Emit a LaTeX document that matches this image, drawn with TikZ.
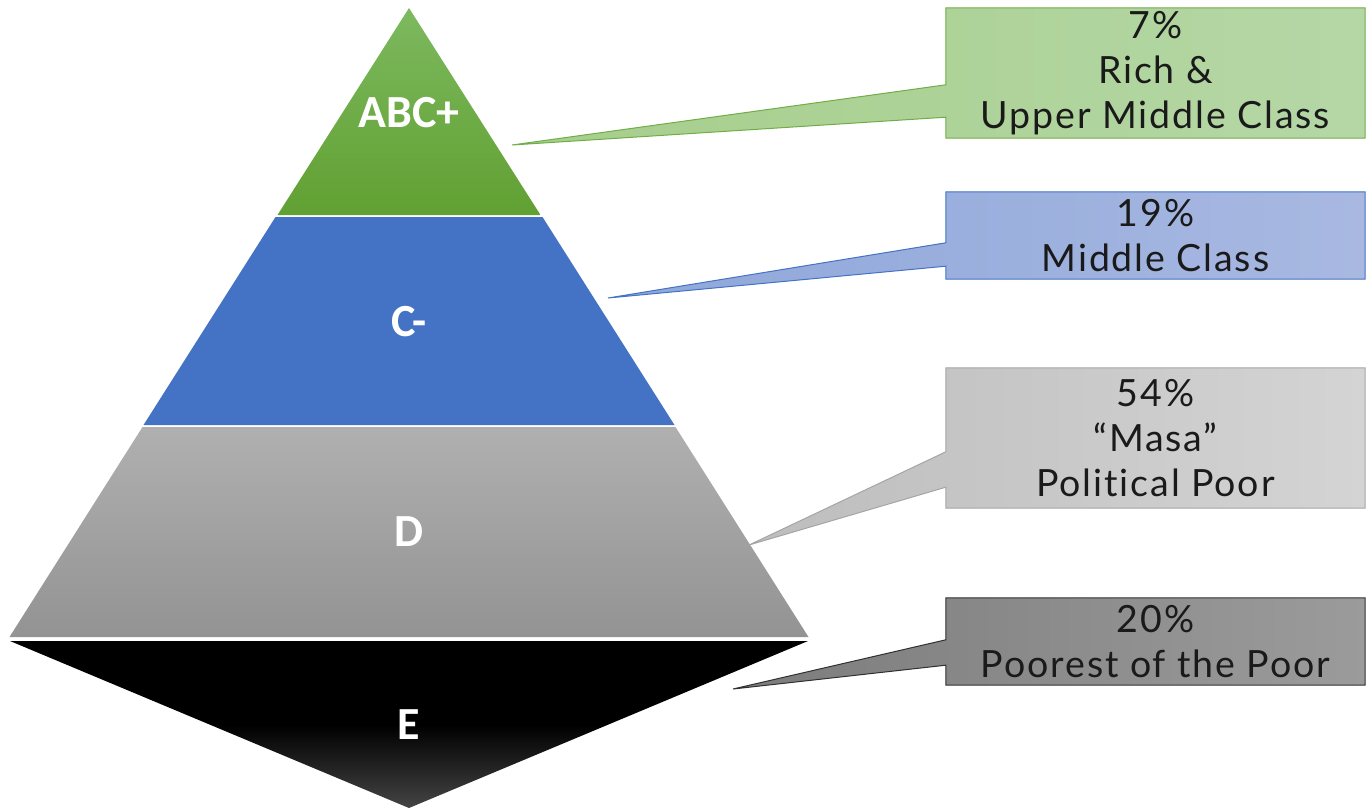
\documentclass[tikz,border=0pt]{standalone}
\usepackage{fontspec}
\setmainfont{Carlito}
\newfontfamily\boxfont[LetterSpace=5,Ligatures={NoCommon}]{Lato}
\usetikzlibrary{calc}
\pgfdeclarelayer{bg}
\pgfsetlayers{bg,main}
\definecolor{gtop}{HTML}{7DB95F}
\definecolor{gbot}{HTML}{61A032}
\definecolor{bband}{HTML}{4472C4}
\definecolor{dtop}{HTML}{B0B0B0}
\definecolor{dbot}{HTML}{939393}
\definecolor{ebot}{HTML}{444444}
\definecolor{gbl}{HTML}{A6CE8B}
\definecolor{gbr}{HTML}{B5D7A6}
\definecolor{gbd}{HTML}{70AD47}
\definecolor{bbl}{HTML}{8EA7DA}
\definecolor{bbr}{HTML}{A8B8E1}
\definecolor{bbd}{HTML}{4472C4}
\definecolor{ybl}{HTML}{BDBDBD}
\definecolor{ybr}{HTML}{D4D4D4}
\definecolor{ybd}{HTML}{A5A5A5}
\definecolor{kbl}{HTML}{7C7C7C}
\definecolor{kbr}{HTML}{9B9B9B}
\definecolor{kbd}{HTML}{303030}
\definecolor{txt}{HTML}{1A1A1A}
\tikzset{
  band/.style={text=white, font=\bfseries\fontsize{46}{46}\selectfont, inner sep=0pt},
  cbox/.style={minimum width=419pt, inner sep=0pt, align=center, text=txt,
    font=\boxfont\fontsize{37.5}{45}\selectfont},
  callout/.style={line width=1pt, line join=miter}
}
\begin{document}
\begin{tikzpicture}[x=1pt,y=-1pt]
\useasboundingbox (0,0) rectangle (1370,811);
% pyramid bands
\path[top color=gtop, bottom color=gbot] (409,8) -- (540.5,215) -- (277.5,215) -- cycle;
\path[fill=bband] (275.5,217) -- (542.5,217) -- (674.5,425) -- (143.5,425) -- cycle;
\path[top color=dtop, bottom color=dbot] (142.5,427) -- (675.5,427) -- (808.5,637) -- (9.5,637) -- cycle;
\path[top color=black, bottom color=ebot, middle color=black] (10,641) -- (808,641) -- (409,808) -- cycle;
% band labels
\node[band] (lA) at (409,113) {ABC+};
\node[band] (lC) at (409,322) {C-};
\node[band] (lD) at (409,532) {D};
\node[band] (lE) at (409,725) {E};
% callout boxes
\node[cbox, minimum height=130pt] (bA) at (1155.5,73) {7\%\\Rich \&\\Upper Middle Class};
\node[cbox, minimum height=87pt] (bC) at (1155.5,235.5) {19\%\\Middle Class};
\node[cbox, minimum height=140pt] (bD) at (1155.5,438) {54\%\\“Masa”\\Political Poor};
\node[cbox, minimum height=87pt] (bE) at (1155.5,641.5) {20\%\\Poorest of the Poor};
\coordinate (tA) at (512,145);
\coordinate (tC) at (608,298);
\coordinate (tD) at (749,545);
\coordinate (tE) at (733,689);
\begin{pgfonlayer}{bg}
\draw[callout, draw=gbd, left color=gbl, right color=gbr]
  (bA.north west) -- (bA.north east) -- (bA.south east) -- (bA.south west)
  -- ($(bA.south west)+(0,-21)$) -- (tA) -- ($(bA.north west)+(0,77)$) -- cycle;
\draw[callout, draw=bbd, left color=bbl, right color=bbr]
  (bC.north west) -- (bC.north east) -- (bC.south east) -- (bC.south west)
  -- ($(bC.south west)+(0,-13)$) -- (tC) -- ($(bC.north west)+(0,51)$) -- cycle;
\draw[callout, draw=ybd, left color=ybl, right color=ybr]
  (bD.north west) -- (bD.north east) -- (bD.south east) -- (bD.south west)
  -- ($(bD.south west)+(0,-21)$) -- (tD) -- ($(bD.north west)+(0,84)$) -- cycle;
\draw[callout, draw=kbd, left color=kbl, right color=kbr]
  (bE.north west) -- (bE.north east) -- (bE.south east) -- (bE.south west)
  -- ($(bE.south west)+(0,-20)$) -- (tE) -- ($(bE.north west)+(0,42)$) -- cycle;
\end{pgfonlayer}
\end{tikzpicture}
\end{document}
